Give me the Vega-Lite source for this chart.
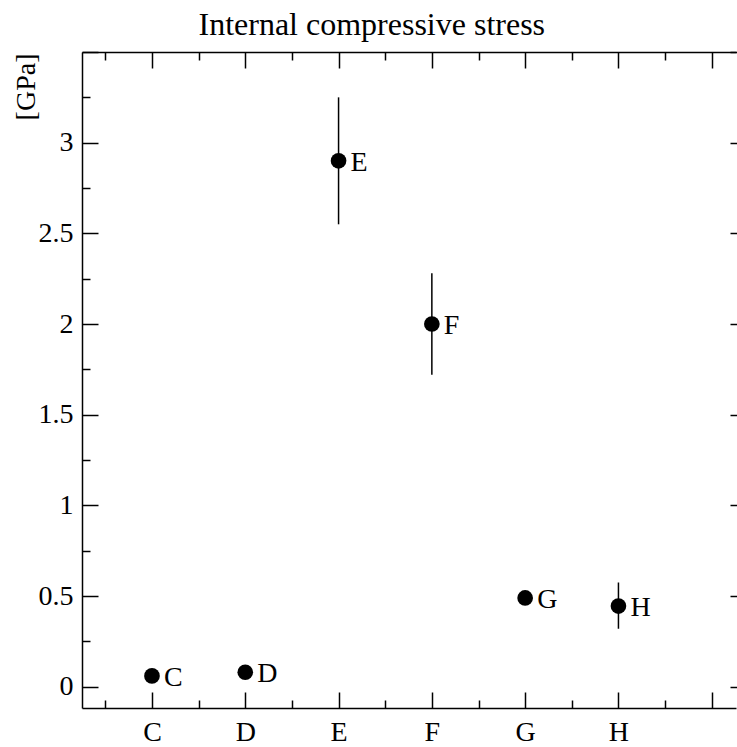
{
  "$schema": "https://vega.github.io/schema/vega-lite/v6.json",
  "width": 654,
  "height": 656,
  "autosize": {"type": "none"},
  "padding": {"left": 82, "top": 52, "right": 1, "bottom": 39},
  "background": "white",
  "data": {
    "values": [
      {"k": "C", "x": 1, "y": 0.06, "lo": 0.06, "hi": 0.06},
      {"k": "D", "x": 2, "y": 0.08, "lo": 0.08, "hi": 0.08},
      {"k": "E", "x": 3, "y": 2.9, "lo": 2.55, "hi": 3.25},
      {"k": "F", "x": 4, "y": 2.0, "lo": 1.72, "hi": 2.28},
      {"k": "G", "x": 5, "y": 0.49, "lo": 0.49, "hi": 0.49},
      {"k": "H", "x": 6, "y": 0.445, "lo": 0.32, "hi": 0.575}
    ]
  },
  "config": {
    "view": {"stroke": null},
    "axis": {
      "grid": false,
      "domainColor": "black",
      "domainWidth": 1.5,
      "tickColor": "black",
      "tickWidth": 1.5,
      "labelColor": "black",
      "labelFont": "Liberation Serif",
      "labelFontSize": 28,
      "labelFlush": false,
      "labelOverlap": false,
      "titleFont": "Liberation Serif",
      "titleFontSize": 28,
      "titleFontWeight": "normal",
      "titleColor": "black"
    }
  },
  "resolve": {"axis": {"x": "independent", "y": "independent"}},
  "layer": [
    {
      "mark": {"type": "rule", "color": "black", "strokeWidth": 1.5},
      "encoding": {
        "x": {
          "field": "x", "type": "quantitative",
          "scale": {"domain": [0.25, 7.26], "nice": false, "zero": false},
          "axis": {
            "orient": "bottom", "title": null,
            "values": [1, 2, 3, 4, 5, 6, 7],
            "tickSize": -16,
            "labelPadding": 26,
            "labelExpr": "datum.value >= 1 && datum.value <= 6 ? substring('CDEFGH', datum.value - 1, datum.value) : ''"
          }
        },
        "y": {
          "field": "lo", "type": "quantitative",
          "scale": {"domain": [-0.117, 3.5], "nice": false, "zero": false},
          "axis": {
            "orient": "left",
            "title": "[GPa]",
            "titleAngle": -90,
            "titleX": -56,
            "titleY": 1,
            "titleAlign": "right",
            "titleBaseline": "middle",
            "values": [0, 0.5, 1, 1.5, 2, 2.5, 3, 3.5],
            "labelExpr": "datum.value >= 3.5 ? '' : format(datum.value, '~g')",
            "tickSize": -16,
            "labelPadding": 25
          }
        },
        "y2": {"field": "hi"}
      }
    },
    {
      "mark": {"type": "point", "filled": true, "color": "black", "opacity": 1, "size": 245, "shape": "circle"},
      "encoding": {
        "x": {"field": "x", "type": "quantitative", "axis": null},
        "y": {"field": "y", "type": "quantitative", "axis": null}
      }
    },
    {
      "mark": {"type": "text", "align": "left", "baseline": "middle", "dx": 12, "dy": 2, "font": "Liberation Serif", "fontSize": 28, "color": "black"},
      "encoding": {
        "x": {"field": "x", "type": "quantitative", "axis": null},
        "y": {"field": "y", "type": "quantitative", "axis": null},
        "text": {"field": "k"}
      }
    },
    {
      "mark": {"type": "point", "opacity": 0},
      "encoding": {
        "x": {"field": "x", "type": "quantitative",
          "axis": {"orient": "bottom", "title": null, "domain": false, "labels": false,
            "values": [0.5, 1.5, 2.5, 3.5, 4.5, 5.5, 6.5], "tickSize": -8}},
        "y": {"field": "y", "type": "quantitative",
          "axis": {"orient": "left", "title": null, "domain": false, "labels": false,
            "values": [0.25, 0.75, 1.25, 1.75, 2.25, 2.75, 3.25], "tickSize": -8}}
      }
    },
    {
      "mark": {"type": "point", "opacity": 0},
      "encoding": {
        "x": {"field": "x", "type": "quantitative",
          "axis": {"orient": "top", "labels": false,
            "title": "Internal compressive stress",
            "titleFontSize": 32,
            "titleX": 116, "titleY": -18, "titleAlign": "left", "titleBaseline": "alphabetic", "titleAngle": 0,
            "values": [1, 2, 3, 4, 5, 6, 7], "tickSize": -16}},
        "y": {"field": "y", "type": "quantitative",
          "axis": {"orient": "right", "title": null, "labels": false, "offset": 10,
            "values": [0, 0.5, 1, 1.5, 2, 2.5, 3, 3.5], "tickSize": -16}}
      }
    },
    {
      "mark": {"type": "point", "opacity": 0},
      "encoding": {
        "x": {"field": "x", "type": "quantitative",
          "axis": {"orient": "top", "title": null, "domain": false, "labels": false,
            "values": [0.5, 1.5, 2.5, 3.5, 4.5, 5.5, 6.5], "tickSize": -8}},
        "y": {"field": "y", "type": "quantitative",
          "axis": {"orient": "right", "title": null, "domain": false, "labels": false, "offset": 10,
            "values": [0.25, 0.75, 1.25, 1.75, 2.25, 2.75, 3.25], "tickSize": -8}}
      }
    }
  ]
}
